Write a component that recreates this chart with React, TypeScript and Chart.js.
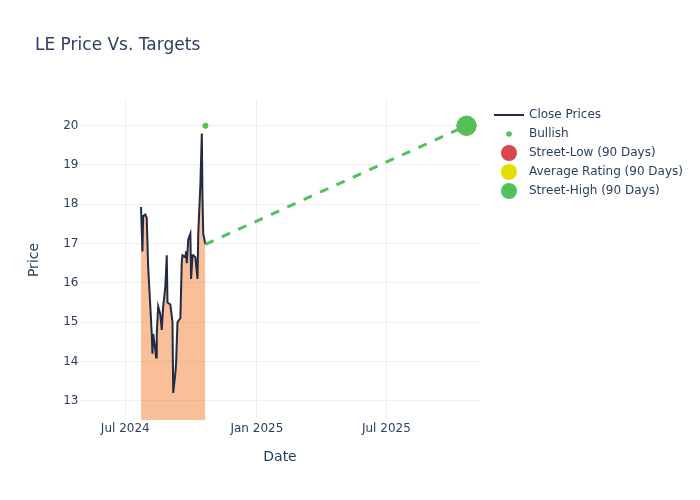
import React, { useEffect, useRef } from "react";
import { Chart, registerables } from "chart.js";

Chart.register(...registerables);

// ---------- data ----------
const titleText = "LE Price Vs. Targets";

const closeDates = [
  "2024-07-23", "2024-07-25", "2024-07-26", "2024-07-29", "2024-07-31",
  "2024-08-02", "2024-08-05", "2024-08-07", "2024-08-08", "2024-08-09",
  "2024-08-12", "2024-08-13", "2024-08-14", "2024-08-16", "2024-08-19",
  "2024-08-21", "2024-08-23", "2024-08-26", "2024-08-28", "2024-08-29",
  "2024-09-02", "2024-09-03", "2024-09-05", "2024-09-06", "2024-09-09",
  "2024-09-10", "2024-09-12", "2024-09-16", "2024-09-18", "2024-09-19",
  "2024-09-23", "2024-09-24", "2024-09-25", "2024-09-27", "2024-09-30",
  "2024-10-01", "2024-10-03", "2024-10-04", "2024-10-07", "2024-10-10",
  "2024-10-11", "2024-10-14", "2024-10-16", "2024-10-17", "2024-10-18",
  "2024-10-21",
];
const closeValues = [
  17.93, 16.8, 17.7, 17.74, 17.65,
  16.4, 15.4, 14.7, 14.2, 14.7,
  14.3, 14.1, 14.7, 15.4, 15.2,
  14.8, 15.4, 15.9, 16.7, 15.5,
  15.45, 15.3, 15.0, 13.2, 13.7,
  13.95, 15.0, 15.1, 16.55, 16.7,
  16.65, 16.8, 16.5, 17.1, 17.25,
  16.1, 16.7, 16.7, 16.65, 16.1,
  17.25, 18.5, 19.8, 18.1, 17.25,
  16.98,
];

const bullishDates = ["2024-10-21"];
const bullishValues = [20];

const targetDate = "2025-10-21";
const streetLowValue = 20;
const averageValue = 20;
const streetHighValue = 20;

const xTickDates = ["2024-07-01", "2025-01-01", "2025-07-01"];
const xTickLabels = ["Jul 2024", "Jan 2025", "Jul 2025"];
const yTickValues = [13, 14, 15, 16, 17, 18, 19, 20];

const legendLabels = [
  "Close Prices",
  "Bullish",
  "Street-Low (90 Days)",
  "Average Rating (90 Days)",
  "Street-High (90 Days)",
];

// ---------- style ----------
const FONT = "'DejaVu Sans', sans-serif";
const TEXT = "#2a3f5f";
const GRID = "#ebf0f8";
const NAVY = "#222b45";
const FILL = "rgba(244,128,50,0.5)";
const GREEN = "#52c15a";
const RED = "#d6474f";
const YELLOW = "#e1df00";

const ts = (d: string) => {
  const [y, m, day] = d.split("-").map(Number);
  return Date.UTC(y, m - 1, day);
};

const xMin = Date.UTC(2024, 3, 28, 17);
const xMax = Date.UTC(2025, 10, 8, 21);
const yMin = 12.51;
const yMax = 20.654;

const overlayPlugin = {
  id: "overlay",
  afterDraw(chart: any) {
    const ctx = chart.ctx as CanvasRenderingContext2D;
    ctx.save();
    ctx.fillStyle = TEXT;
    ctx.textAlign = "left";
    ctx.font = `17px ${FONT}`;
    ctx.textBaseline = "alphabetic";
    ctx.fillText(titleText, 35, 49.5);

    // legend
    const lx = 509;
    const tx = 529;
    const ys = [115, 134, 153, 172, 191];
    ctx.font = `12px ${FONT}`;
    ctx.textBaseline = "middle";
    ctx.strokeStyle = NAVY;
    ctx.lineWidth = 2;
    ctx.beginPath();
    ctx.moveTo(494, ys[0]);
    ctx.lineTo(524, ys[0]);
    ctx.stroke();
    const dots: [number, string][] = [
      [2.8, GREEN],
      [8, RED],
      [8, YELLOW],
      [8, GREEN],
    ];
    dots.forEach(([r, c], i) => {
      ctx.fillStyle = c;
      ctx.beginPath();
      ctx.arc(lx, ys[i + 1], r, 0, Math.PI * 2);
      ctx.fill();
    });
    ctx.fillStyle = TEXT;
    legendLabels.forEach((t, i) => ctx.fillText(t, tx, ys[i]));
    ctx.restore();
  },
};

export default function App() {
  const ref = useRef<HTMLCanvasElement | null>(null);

  useEffect(() => {
    if (!ref.current) return;
    const closeData = closeDates.map((d, i) => ({ x: ts(d), y: closeValues[i] }));
    const lastX = ts(closeDates[closeDates.length - 1]);
    const lastY = closeValues[closeValues.length - 1];
    const tX = ts(targetDate);

    const chart = new Chart(ref.current, {
      type: "line",
      data: {
        datasets: [
          {
            label: legendLabels[4],
            data: [{ x: tX, y: streetHighValue }],
            showLine: false,
            pointRadius: 10,
            pointBackgroundColor: GREEN,
            pointBorderWidth: 0,
            order: 0,
          },
          {
            label: legendLabels[3],
            data: [{ x: tX, y: averageValue }],
            showLine: false,
            pointRadius: 10,
            pointBackgroundColor: YELLOW,
            pointBorderWidth: 0,
            order: 1,
          },
          {
            label: legendLabels[2],
            data: [{ x: tX, y: streetLowValue }],
            showLine: false,
            pointRadius: 10,
            pointBackgroundColor: RED,
            pointBorderWidth: 0,
            order: 2,
          },
          {
            label: legendLabels[1],
            data: bullishDates.map((d, i) => ({ x: ts(d), y: bullishValues[i] })),
            showLine: false,
            pointRadius: 3,
            pointBackgroundColor: GREEN,
            pointBorderWidth: 0,
            order: 3,
          },
          {
            label: "target-line",
            data: [
              { x: lastX, y: lastY },
              { x: tX, y: streetHighValue },
            ],
            borderColor: GREEN,
            borderWidth: 3,
            borderDash: [9, 9],
            pointRadius: 0,
            fill: false,
            order: 4,
          },
          {
            label: legendLabels[0],
            data: closeData,
            borderColor: NAVY,
            borderWidth: 2,
            backgroundColor: FILL,
            fill: "origin",
            pointRadius: 0,
            tension: 0,
            order: 5,
          },
        ],
      },
      options: {
        animation: false,
        responsive: true,
        maintainAspectRatio: false,
        devicePixelRatio: 1,
        layout: { padding: { left: 0, right: 220, top: 100, bottom: 0 } },
        plugins: {
          legend: { display: false },
          tooltip: { enabled: false },
          title: { display: false },
        },
        scales: {
          x: {
            type: "linear",
            min: xMin,
            max: xMax,
            afterFit: (s: any) => {
              s.height = 80;
            },
            afterBuildTicks: (s: any) => {
              s.ticks = xTickDates.map((d) => ({ value: ts(d) }));
            },
            grid: { color: GRID, drawTicks: false, lineWidth: 1 },
            border: { display: false },
            ticks: {
              color: TEXT,
              font: { family: FONT, size: 12 },
              padding: 2,
              maxRotation: 0,
              autoSkip: false,
              callback: (v: any) => {
                const i = xTickDates.findIndex((d) => ts(d) === v);
                return i >= 0 ? xTickLabels[i] : "";
              },
            },
            title: {
              display: true,
              text: "Date",
              color: TEXT,
              font: { family: FONT, size: 14 },
              padding: { top: 0, bottom: 34 },
            },
          },
          y: {
            type: "linear",
            min: yMin,
            max: yMax,
            afterFit: (s: any) => {
              s.width = 80;
            },
            afterBuildTicks: (s: any) => {
              s.ticks = yTickValues.map((v) => ({ value: v }));
            },
            grid: { color: GRID, drawTicks: false, lineWidth: 1 },
            border: { display: false },
            ticks: {
              color: TEXT,
              font: { family: FONT, size: 12 },
              padding: 1.5,
              callback: (v: any) => String(v),
            },
            title: {
              display: true,
              text: "Price",
              color: TEXT,
              font: { family: FONT, size: 14 },
              padding: { top: 26, bottom: 0 },
            },
          },
        },
      },
      plugins: [overlayPlugin],
    } as any);

    return () => chart.destroy();
  }, []);

  return (
    <div style={{ position: "absolute", left: 0, top: 0, width: 700, height: 500, background: "#fff" }}>
      <canvas ref={ref} />
    </div>
  );
}
